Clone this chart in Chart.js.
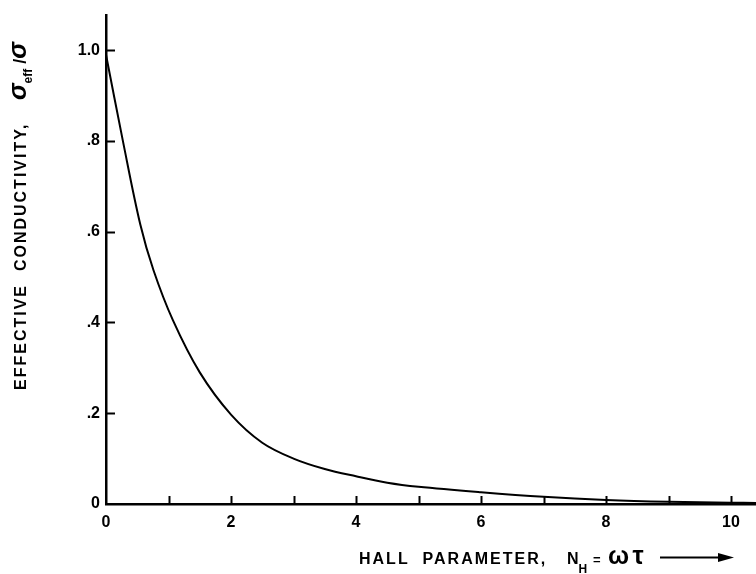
<!DOCTYPE html>
<html>
<head>
<meta charset="utf-8">
<script src="https://cdn.jsdelivr.net/npm/chart.js@4.4.1/dist/chart.umd.min.js"></script>
<style>
  html, body { margin: 0; padding: 0; background: #fff; }
  #chart { display: block; }
</style>
</head>
<body>
<canvas id="chart" width="756" height="574"></canvas>
<script>
// Hall parameter N_H (x) and effective conductivity ratio (y)
const hallParam = [0, 0.27, 0.55, 0.76, 1.07, 1.5, 2.0, 2.5, 3.0, 3.5, 4.0, 4.5, 5.0, 6.0, 7.0, 8.0, 9.0, 10.0, 10.4];
const effCond   = [0.99, 0.80, 0.615, 0.515, 0.405, 0.29, 0.197, 0.135, 0.10, 0.077, 0.061, 0.047, 0.038, 0.026, 0.016, 0.009, 0.005, 0.003, 0.002];

const xTickVals = [0, 1, 2, 3, 4, 5, 6, 7, 8, 9, 10];
const xTickLabels = ['0', '', '2', '', '4', '', '6', '', '8', '', '10'];
const yTickVals = [0, 0.2, 0.4, 0.6, 0.8, 1.0];
const yTickLabels = ['0', '.2', '.4', '.6', '.8', '1.0'];

const FONT = '"Liberation Sans", Arial, sans-serif';

// draw a row of text pieces one after another (subscripts use dy)
const drawRuns = (ctx, runs) => {
  let x = 0;
  runs.forEach(r => {
    if (r.at !== undefined) x = r.at;
    ctx.font = r.font;
    ctx.letterSpacing = r.ls || '0px';
    ctx.fillText(r.text, x, r.dy || 0);
    x += ctx.measureText(r.text).width;
  });
  ctx.letterSpacing = '0px';
};

const decorations = {
  id: 'decorations',
  afterDraw(chart) {
    const ctx = chart.ctx;
    const xs = chart.scales.x, ys = chart.scales.y;
    ctx.save();
    ctx.strokeStyle = '#000';
    ctx.fillStyle = '#000';
    ctx.lineWidth = 2;

    // inward tick marks
    xTickVals.forEach(v => {
      if (v === 0) return;
      const px = Math.round(xs.getPixelForValue(v)) + 0.5;
      ctx.beginPath();
      ctx.moveTo(px, xs.top);
      ctx.lineTo(px, xs.top - 8);
      ctx.stroke();
    });
    yTickVals.forEach(v => {
      if (v === 0) return;
      const py = Math.round(ys.getPixelForValue(v)) + 0.5;
      ctx.beginPath();
      ctx.moveTo(ys.right, py);
      ctx.lineTo(ys.right + 9, py);
      ctx.stroke();
    });

    ctx.textBaseline = 'alphabetic';
    ctx.textAlign = 'left';

    // y-axis title (rotated)
    ctx.save();
    ctx.translate(26, 390);
    ctx.rotate(-Math.PI / 2);
    drawRuns(ctx, [
      { text: 'EFFECTIVE  CONDUCTIVITY,', font: 'bold 16px ' + FONT, ls: '2px' },
      { text: 'σ', font: 'italic bold 25px ' + FONT, at: 290 },
      { text: 'eff', font: 'bold 12px ' + FONT, dy: 6 },
      { text: ' /', font: 'bold 18px ' + FONT },
      { text: 'σ', font: 'italic bold 25px ' + FONT }
    ]);
    ctx.restore();

    // x-axis title
    ctx.save();
    ctx.translate(359, 564);
    drawRuns(ctx, [
      { text: 'HALL  PARAMETER,', font: 'bold 16px ' + FONT, ls: '2px' },
      { text: 'N', font: 'bold 16px ' + FONT, at: 208 },
      { text: 'H', font: 'bold 12px ' + FONT, dy: 9 },
      { text: '=', font: 'bold 13px ' + FONT, at: 234 },
      { text: 'ωτ', font: 'bold 25px ' + FONT, ls: '4px', at: 249 }
    ]);
    ctx.restore();

    // arrow
    ctx.lineWidth = 1.8;
    ctx.beginPath();
    ctx.moveTo(660, 557.5);
    ctx.lineTo(722, 557.5);
    ctx.stroke();
    ctx.beginPath();
    ctx.moveTo(734, 557.5);
    ctx.lineTo(718, 553);
    ctx.lineTo(718, 562);
    ctx.closePath();
    ctx.fill();

    ctx.restore();
  }
};

new Chart(document.getElementById('chart'), {
  type: 'line',
  data: {
    datasets: [{
      data: hallParam.map((x, i) => ({ x: x, y: effCond[i] })),
      borderColor: '#000',
      borderWidth: 2,
      pointRadius: 0,
      fill: false,
      tension: 0.35
    }]
  },
  options: {
    responsive: false,
    animation: false,
    layout: { padding: { top: 7, left: 0, right: 0, bottom: 0 } },
    plugins: { legend: { display: false }, tooltip: { enabled: false } },
    scales: {
      x: {
        type: 'linear',
        min: 0,
        max: 10.4,
        afterBuildTicks: s => { s.ticks = xTickVals.map(v => ({ value: v })); },
        afterFit: s => { s.height = 70; },
        grid: { display: true, drawOnChartArea: false, drawTicks: false },
        border: { display: true, color: '#000', width: 2.5 },
        ticks: {
          autoSkip: false,
          maxRotation: 0,
          padding: 9,
          color: '#000',
          font: { family: FONT, size: 16, weight: 'bold' },
          callback: (v) => xTickLabels[xTickVals.indexOf(v)]
        }
      },
      y: {
        type: 'linear',
        min: 0,
        max: 1.076,
        afterBuildTicks: s => { s.ticks = yTickVals.map(v => ({ value: v })); },
        afterFit: s => { s.width = 106; },
        grid: { display: true, drawOnChartArea: false, drawTicks: false },
        border: { display: true, color: '#000', width: 2.5 },
        ticks: {
          autoSkip: false,
          padding: 6,
          color: '#000',
          font: { family: FONT, size: 16, weight: 'bold' },
          callback: (v) => yTickLabels[yTickVals.indexOf(v)]
        }
      }
    }
  },
  plugins: [decorations]
});
</script>
</body>
</html>
